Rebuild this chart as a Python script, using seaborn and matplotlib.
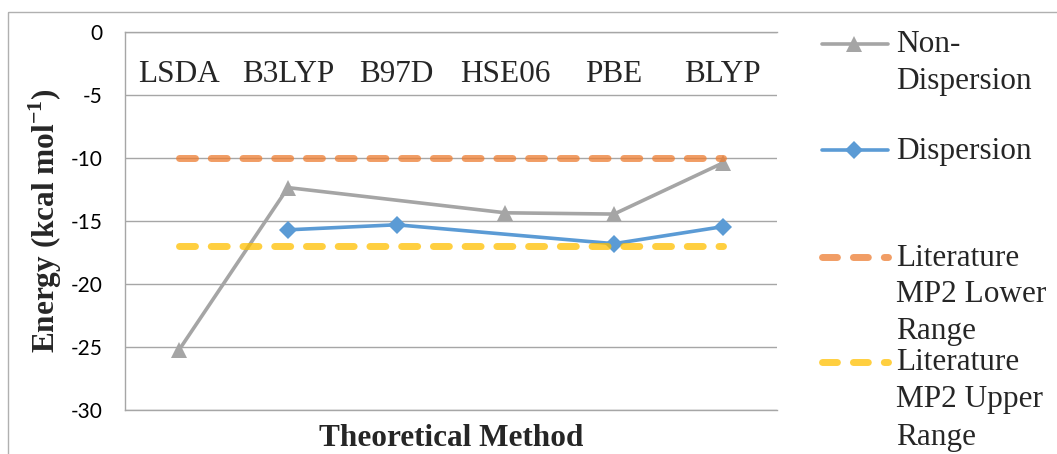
import numpy as np
import matplotlib
matplotlib.use("Agg")
import matplotlib.pyplot as plt
import seaborn as sns
from matplotlib.lines import Line2D
from matplotlib.patches import Rectangle

# Binding energies (kcal/mol) per DFT functional
methods = ["LSDA", "B3LYP", "B97D", "HSE06", "PBE", "BLYP"]
non_dispersion = [-25.2, -12.35, np.nan, -14.35, -14.45, -10.4]
dispersion = [np.nan, -15.7, -15.3, np.nan, -16.8, -15.45]
mp2_lower = [-10.0, -10.0, -10.0, -10.0, -10.0, -10.0]
mp2_upper = [-17.0, -17.0, -17.0, -17.0, -17.0, -17.0]
y_ticks = [0, -5, -10, -15, -20, -25, -30]

legend_labels = [
    ["Non-", "Dispersion"],
    ["Dispersion"],
    ["Literature", "MP2 Lower", "Range"],
    ["Literature", "MP2 Upper", "Range"],
]

GRAY = "#A5A5A5"
BLUE = "#5B9BD5"
ORANGE = "#ED7D31"
YELLOW = "#FFC000"
GRID = "#A6A6A6"

TRI_MS = 11
DIA_MS = 9

sns.set_theme(style="white")
plt.rcParams["font.family"] = ["Liberation Serif", "DejaVu Serif"]
plt.rcParams["mathtext.fontset"] = "custom"
plt.rcParams["mathtext.rm"] = "Liberation Serif"
plt.rcParams["mathtext.bf"] = "Liberation Serif:bold"

W, H = 1057, 454
fig = plt.figure(figsize=(W / 100, H / 100), dpi=100)
ax = fig.add_axes([125 / W, 1 - 410 / H, 652 / W, 378 / H])

pos = np.arange(len(methods))
DASH = (0, (2.3, 2.27))

sns.lineplot(x=pos, y=non_dispersion, ax=ax, color=GRAY, lw=2.6,
             marker="^", markersize=TRI_MS, markeredgewidth=0,
             errorbar=None, legend=False, zorder=3)
sns.lineplot(x=pos, y=dispersion, ax=ax, color=BLUE, lw=2.6,
             marker="D", markersize=DIA_MS, markeredgewidth=0,
             errorbar=None, legend=False, zorder=3)
sns.lineplot(x=pos, y=mp2_lower, ax=ax, color=ORANGE, lw=5, alpha=0.75,
             linestyle=DASH, dash_capstyle="round",
             errorbar=None, legend=False, zorder=4)
sns.lineplot(x=pos, y=mp2_upper, ax=ax, color=YELLOW, lw=5, alpha=0.75,
             linestyle=DASH, dash_capstyle="round",
             errorbar=None, legend=False, zorder=4)
ax.lines[0].set_markersize(TRI_MS)
ax.lines[1].set_markersize(DIA_MS)

ax.set_xlim(-0.5, len(methods) - 0.5)
ax.set_ylim(-30, 0)
ax.set_yticks(y_ticks)
ax.set_yticklabels([str(v) for v in y_ticks], fontfamily="Lato", fontsize=15)
ax.yaxis.grid(True, color=GRID, lw=1.0)
ax.set_axisbelow(True)

ax.xaxis.set_ticks_position("top")
ax.set_xticks(pos)
ax.set_xticklabels(methods, fontsize=22.5)
ax.tick_params(axis="x", length=0, pad=-41)
ax.tick_params(axis="y", length=0, pad=16, colors="black")

for side in ["left", "top", "bottom"]:
    ax.spines[side].set_visible(True)
    ax.spines[side].set_color(GRID)
    ax.spines[side].set_linewidth(1.0)
ax.spines["right"].set_visible(False)

ax.xaxis.set_label_position("bottom")
ax.set_xlabel("Theoretical Method", fontsize=22.5, fontweight="bold", labelpad=10)
ax.set_ylabel(r"Energy (kcal mol$^{\mathbf{-1}}$)", fontsize=22.5,
              fontweight="bold", labelpad=5)

# Legend panel drawn in pixel coordinates on a full-figure overlay
ov = fig.add_axes([0, 0, 1, 1], facecolor="none")
ov.set_xlim(0, W)
ov.set_ylim(H, 0)
ov.axis("off")

ov.add_patch(Rectangle((8, 12), W + 20, H + 20, fill=False,
                       edgecolor="#B0B0B0", lw=1.0, clip_on=False))

LEG_DASH = (0, (2.15, 2.3))
handles = [
    dict(color=GRAY, lw=2.6, marker="^", markersize=TRI_MS, markeredgewidth=0),
    dict(color=BLUE, lw=2.6, marker="D", markersize=DIA_MS, markeredgewidth=0),
    dict(color=ORANGE, lw=5, alpha=0.75, linestyle=LEG_DASH, dash_capstyle="round"),
    dict(color=YELLOW, lw=5, alpha=0.75, linestyle=LEG_DASH, dash_capstyle="round"),
]
row_y = [44, 150, 257, 362]
for y0, style, lines in zip(row_y, handles, legend_labels):
    kw = dict(style)
    mk = kw.pop("marker", None)
    ms = kw.pop("markersize", None)
    mew = kw.pop("markeredgewidth", None)
    ov.add_line(Line2D([821.5, 888], [y0, y0], **kw))
    if mk:
        ov.add_line(Line2D([854], [y0], color=kw["color"], marker=mk,
                           markersize=ms, markeredgewidth=mew, lw=0))
    for i, txt in enumerate(lines):
        ov.text(896, y0 + 1 + i * 37, txt, fontsize=22.5, va="center", ha="left")

fig.savefig("out.png", dpi=100)
